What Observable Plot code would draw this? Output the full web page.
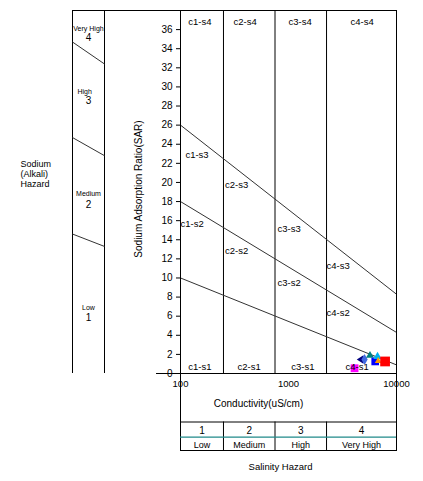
<!DOCTYPE html>
<html><head><meta charset="utf-8">
<script src="https://cdn.jsdelivr.net/npm/d3@7"></script>
<script src="https://cdn.jsdelivr.net/npm/@observablehq/plot@0.6"></script>
<style>
body{margin:0;background:#fff}
#chart{position:relative;width:423px;height:481px}
#chart svg{position:absolute;left:0;top:0}
</style>
</head><body><div id="chart"></div>
<script>
// ---------------- data ----------------
const sampleIds    = ["S1","S2","S3","S4","S5","S6","S7","S8"];
const conductivity = [4090, 4640, 5060, 5680, 6350, 6670, 6770, 7840];   // uS/cm
const sarValues    = [0.55, 1.47, 1.47, 1.88, 1.26, 1.78, 1.31, 1.26];

const sarTicks = d3.range(0, 37, 2);
const ecTicks  = [100, 1000, 10000];

const boundaryEC = [100, 10000];
const s1s2 = [10, 0.9];
const s2s3 = [18, 4.3];
const s3s4 = [26, 8.3];

const zoneLabels = ["c1-s4","c2-s4","c3-s4","c4-s4","c1-s3","c2-s3","c3-s3","c4-s3",
                    "c1-s2","c2-s2","c3-s2","c4-s2","c1-s1","c2-s1","c3-s1","c4-s1"];
const zoneEC  = [118, 310, 1000, 3750, 111, 258, 790, 2250, 100, 258, 790, 2250, 118, 337, 1060, 3370];
const zoneSAR = [36.8, 36.8, 36.8, 36.8, 22.9, 19.7, 15.1, 11.3, 15.7, 12.8, 9.45, 6.3, 0.65, 0.65, 0.65, 0.65];

const salinityBounds = [100, 250, 750, 2250, 10000];
const salinityClass  = ["1","2","3","4"];
const salinityNames  = ["Low","Medium","High","Very High"];

const sodiumClass      = ["4","3","2","1"];
const sodiumNames      = ["Very High","High","Medium","Low"];
const sodiumNameSAR    = [36.1, 29.5, 18.8, 6.9];
const sodiumClassSAR   = [35.1, 28.5, 17.7, 5.8];
const sodiumBoundLeft  = [34.7, 24.7, 14.6];
const sodiumBoundRight = [32.4, 22.8, 13.3];

// ---------------- styles ----------------
const leftTriangle = {draw(ctx, size){ const k = Math.sqrt(size)/2;
  ctx.moveTo(-k*1.0, 0); ctx.lineTo(k*0.8, -k*1.15); ctx.lineTo(k*0.8, k*1.15); ctx.closePath(); }};
const pointStyle = {
  S1: {fill:"#FF00FF", symbol:"square",   r:4.4},
  S2: {fill:"#000080", symbol:leftTriangle, r:4.2},
  S3: {fill:"#4169E1", symbol:"diamond",  r:3.3},
  S4: {fill:"#008080", symbol:"triangle", r:3.0},
  S5: {fill:"#0000FF", symbol:"square",   r:4.3},
  S6: {fill:"#00B0F0", symbol:"triangle", r:3.1},
  S7: {fill:"#FF9900", symbol:"triangle", r:2.5},
  S8: {fill:"#FF0000", symbol:"square",   r:5.5}
};
const FONT = "'Liberation Sans', Arial, sans-serif";
const W = 423, H = 481;
const L = 180, R = 396, T = 10, B = 373, BOX_B = 450;   // frame pixels
const PL = 72, PR = 104;                                 // sodium panel pixels

const table = sampleIds.map((id, i) => ({id, ec: conductivity[i], sar: sarValues[i]}));

// ---------------- main chart ----------------
const main = Plot.plot({
  width: W, height: H,
  marginLeft: L, marginRight: W - R, marginTop: T, marginBottom: H - B,
  x: {type: "log", domain: [100, 10000]},
  y: {domain: [0, 38]},
  style: {fontFamily: FONT, fontSize: "10px", background: "transparent", color: "#000"},
  marks: [
    Plot.ruleX(salinityBounds.slice(1, -1), {stroke: "#000"}),
    ...[s1s2, s2s3, s3s4].map(v =>
      Plot.line(boundaryEC.map((e, i) => ({ec: e, sar: v[i]})), {x: "ec", y: "sar", stroke: "#333", strokeWidth: 1})),
    ...table.map(d => Plot.dot([d], {x: "ec", y: "sar", fill: pointStyle[d.id].fill,
        symbol: pointStyle[d.id].symbol, r: pointStyle[d.id].r})),
    Plot.text(zoneLabels, {x: (d, i) => zoneEC[i], y: (d, i) => zoneSAR[i], text: d => d,
        textAnchor: "start", fontSize: 9.5, fill: "#000"}),
    Plot.frame({stroke: "#000"}),
    Plot.axisY({ticks: sarTicks, tickSize: 4, tickPadding: 4, label: null, fontSize: 10}),
    Plot.axisX({ticks: ecTicks, tickFormat: d => String(d), tickSize: 0, tickPadding: 7, label: null, fontSize: 9.5}),
    Plot.ruleY([0], {x1: 60, x2: 100, stroke: "#000"}),
    Plot.text(["Sodium Adsorption Ratio(SAR)"], {text: d => d, frameAnchor: "left", rotate: -90,
        dx: -42, dy: -3, textAnchor: "middle", lineAnchor: "middle", fontSize: 10, fill: "#000"}),
    Plot.text(["Conductivity(uS/cm)"], {text: d => d, frameAnchor: "bottom", dx: -30, dy: 30,
        textAnchor: "middle", lineAnchor: "middle", fontSize: 10, fill: "#000"}),
    Plot.text(["Salinity Hazard"], {text: d => d, frameAnchor: "bottom", dx: -8, dy: 93,
        textAnchor: "middle", lineAnchor: "middle", fontSize: 9.5, fill: "#000"})
  ]
});

// ---------------- sodium hazard panel ----------------
const sodium = Plot.plot({
  width: W, height: H,
  marginLeft: PL, marginRight: W - PR, marginTop: T, marginBottom: H - B,
  x: {domain: [0, 1], axis: null},
  y: {domain: [0, 38], axis: null},
  style: {fontFamily: FONT, fontSize: "10px", background: "transparent", color: "#000"},
  marks: [
    Plot.ruleX([0, 1], {stroke: "#000"}),
    Plot.ruleY([38], {x1: 0, x2: (L - PL) / (PR - PL), stroke: "#000"}),
    Plot.link(sodiumBoundLeft, {x1: 0, x2: 1, y1: d => d, y2: (d, i) => sodiumBoundRight[i], stroke: "#333"}),
    Plot.text(sodiumNames, {x: d => d === "High" ? 0.38 : 0.5, y: (d, i) => sodiumNameSAR[i], text: d => d, fontSize: 7, fill: "#000"}),
    Plot.text(sodiumClass, {x: 0.5, y: (d, i) => sodiumClassSAR[i], text: d => d, fontSize: 10, fill: "#000"}),
    Plot.text(["Sodium\n(Alkali)\nHazard"], {text: d => d, frameAnchor: "left", dx: 20 - PL, dy: -18.5,
        textAnchor: "start", lineAnchor: "middle", lineHeight: 1.11, fontSize: 9, fill: "#000"})
  ]
});

// ---------------- salinity hazard box ----------------
const boxTop = 0.63, rowSplit = 0.825;
const salinity = Plot.plot({
  width: W, height: H,
  marginLeft: L, marginRight: W - R, marginTop: B, marginBottom: H - BOX_B,
  x: {type: "log", domain: [100, 10000], axis: null},
  y: {domain: [0, 1], reverse: true, axis: null},
  style: {fontFamily: FONT, fontSize: "10px", background: "transparent", color: "#000"},
  marks: [
    Plot.frame({stroke: "#000"}),
    Plot.ruleY([boxTop], {stroke: "#000"}),
    Plot.ruleX(salinityBounds.slice(1, -1), {y1: boxTop, y2: 1, stroke: "#000"}),
    Plot.ruleY([rowSplit], {stroke: "#1f8a8a", strokeWidth: 1.2}),
    Plot.text(salinityClass, {x: (d, i) => Math.sqrt(salinityBounds[i] * salinityBounds[i + 1]), y: 0.75, text: d => d, fontSize: 10, fill: "#000"}),
    Plot.text(salinityNames, {x: (d, i) => Math.sqrt(salinityBounds[i] * salinityBounds[i + 1]), y: 0.93, text: d => d, fontSize: 9, fill: "#000"})
  ]
});

const chart = document.getElementById("chart");
for (const s of [main, sodium, salinity]) {
  s.style.background = "transparent";
  s.style.position = "absolute";
  s.style.left = "0px"; s.style.top = "0px";
  chart.appendChild(s);
}
</script>
</body></html>
